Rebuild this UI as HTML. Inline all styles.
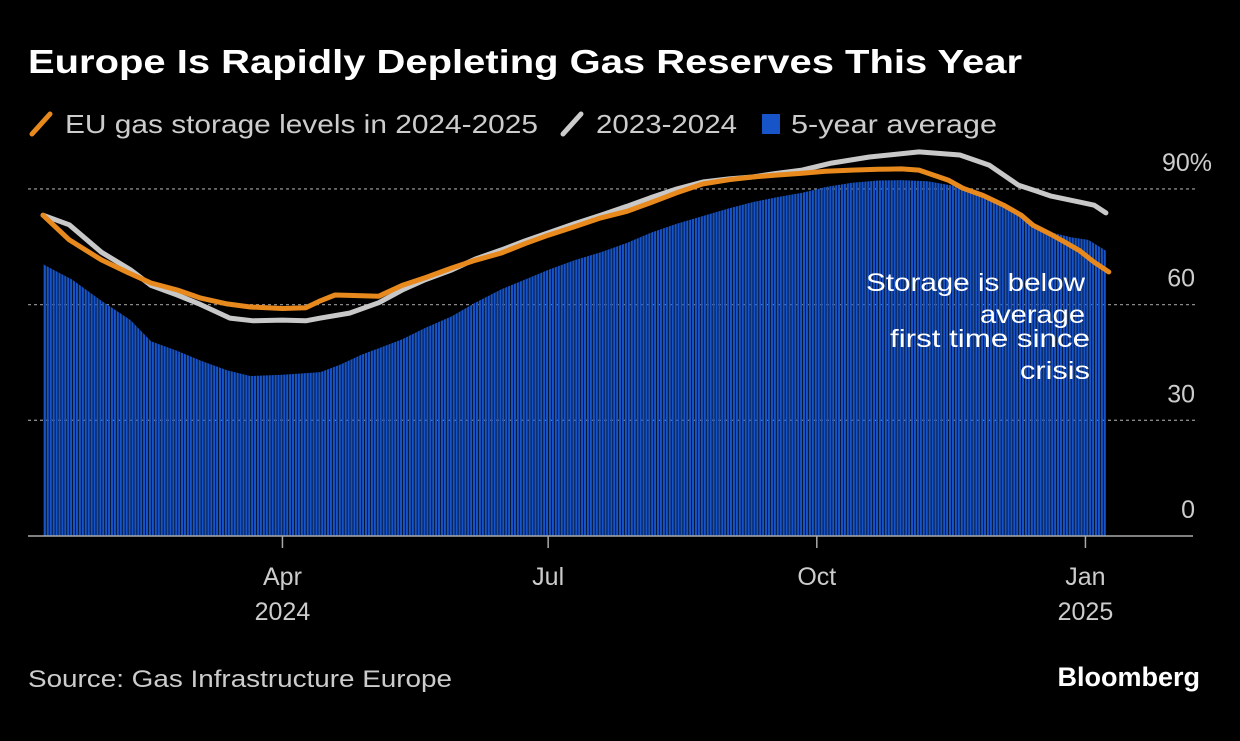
<!DOCTYPE html>
<html><head><meta charset="utf-8">
<style>
body{margin:0;background:#000;width:1240px;height:736px;overflow:hidden;font-family:"Liberation Sans",sans-serif;}
svg text{font-family:"Liberation Sans",sans-serif;}
</style></head>
<body>
<svg id="chart" width="1240" height="736" viewBox="0 0 1240 736" xmlns="http://www.w3.org/2000/svg">
<defs>
<pattern id="stripes" patternUnits="userSpaceOnUse" width="2.92" height="10">
<rect x="0" y="0" width="2.2" height="10" fill="#1654c8"/>
</pattern>
</defs>
<text x="28" y="73" fill="#fff" font-size="33" font-weight="bold" textLength="994" lengthAdjust="spacingAndGlyphs">Europe Is Rapidly Depleting Gas Reserves This Year</text>
<g>
<line x1="32" y1="134" x2="50" y2="114" stroke="#e8891e" stroke-width="5" stroke-linecap="round"/>
<text x="65" y="133" fill="#ccc" font-size="26" textLength="473" lengthAdjust="spacingAndGlyphs">EU gas storage levels in 2024-2025</text>
<line x1="563" y1="134" x2="581" y2="114" stroke="#ccc" stroke-width="5" stroke-linecap="round"/>
<text x="596" y="133" fill="#ccc" font-size="26" textLength="141" lengthAdjust="spacingAndGlyphs">2023-2024</text>
<rect x="762" y="114" width="18" height="20" fill="#1654c8"/>
<text x="791" y="133" fill="#ccc" font-size="26" textLength="206" lengthAdjust="spacingAndGlyphs">5-year average</text>
</g>
<g id="grid"></g>
<g id="bars"></g>
<g id="lines"></g>
<g id="xaxis"></g>
<g fill="#fff" font-size="25">
<text x="866" y="291" textLength="219" lengthAdjust="spacingAndGlyphs">Storage is below</text>
<text x="980" y="323" textLength="105" lengthAdjust="spacingAndGlyphs">average</text>
<text x="890" y="347" textLength="200" lengthAdjust="spacingAndGlyphs">first time since</text>
<text x="1020" y="379" textLength="70" lengthAdjust="spacingAndGlyphs">crisis</text>
</g>
<text x="28" y="687" fill="#ccc" font-size="24" textLength="424" lengthAdjust="spacingAndGlyphs">Source: Gas Infrastructure Europe</text>
<text x="1200" y="686" fill="#fff" font-size="27" font-weight="bold" text-anchor="end">Bloomberg</text>
</svg>
<script>
// day offsets from Jan 9 2024
var avgDays=[0,10,20,30,37,46,54,63,71,82,95,102,109,116,123,131,140,148,157,165,173,182,191,200,208,217,226,235,243,251,260,268,277,286,294,303,312,320,329,337,346,352,358,364];
var avgVals=[70.5,66.5,61,56,50.5,48,45.5,43,41.5,41.8,42.5,44.5,47,49,51,54,57,60.5,64,66.5,69,71.5,73.6,76,78.6,81,83,85,86.6,87.8,89,90.5,91.6,92.2,92.3,92,90.8,88.5,85.3,82,78.6,77.5,76.8,74];
var orDays=[0,9,20,30,37,46,54,63,71,82,90,95,100,105,115,123,131,140,148,157,165,173,182,191,200,208,217,226,235,243,251,260,268,277,286,294,300,305,310,315,322,329,335,339,345,350,355,360,365];
var orVals=[83.2,76.8,71.6,68,65.6,63.8,61.7,60.2,59.4,59,59.2,61,62.5,62.4,62.2,65,67,69.5,71.5,73.4,75.8,78,80.2,82.5,84.2,86.4,89,91.3,92.4,93.1,93.6,94.1,94.6,94.9,95.1,95.2,94.9,93.6,92.3,90.2,88.3,85.8,83.2,80.6,78.3,76.2,74,71,68.5];
var grDays=[0,9,20,30,37,46,54,64,72,82,90,95,105,115,123,131,140,148,157,165,173,182,191,200,208,217,226,235,243,251,260,270,283,300,314,324,334,340,345,355,360,364];
var grVals=[83.2,80.7,73.6,69,65,62.5,60,56.5,55.8,56,55.8,56.5,57.8,60.5,63.8,66.5,69,71.8,74.2,76.5,78.6,81,83.2,85.5,87.7,90,91.8,92.6,93.1,94,94.9,96.7,98.3,99.6,98.8,96.2,91,89.5,88.2,86.6,85.8,83.8];
var yTicks=[0,30,60,90];
var yLabels=["0","30","60","90%"];
var monthDays=[82,173,265,357];
var monthLabels=["Apr","Jul","Oct","Jan"];
var yearLabels=["2024","","","2025"];

var NS="http://www.w3.org/2000/svg";
function X(d){return 43+d*2.92;}
function Y(v){return 536-v*3.856;}
function mk(t,a,p){var e=document.createElementNS(NS,t);for(var k in a)e.setAttribute(k,a[k]);p.appendChild(e);return e;}

var grid=document.getElementById('grid');
yTicks.forEach(function(v,i){
  if(v>0){
    var l=mk('line',{x1:28,x2:1195,y1:Y(v),y2:Y(v),stroke:'#888','stroke-width':1.3,'stroke-dasharray':'3,3'},grid);
    
    
  }
  var t=mk('text',{x:(v==90?1212:1195),y:Y(v)-18,fill:'#ccc','font-size':25,'text-anchor':'end'},grid);
  t.textContent=yLabels[i];
  
  
});

var bars=document.getElementById('bars');
var d='M'+X(avgDays[0])+','+Y(0);
for(var i=0;i<avgDays.length;i++){ d+=' L'+X(avgDays[i]).toFixed(1)+','+Y(avgVals[i]).toFixed(1); }
d+=' L'+X(avgDays[avgDays.length-1]).toFixed(1)+','+Y(0)+' Z';
var area=mk('path',{d:d,fill:'url(#stripes)'},bars);



var lines=document.getElementById('lines');
function line(days,vals,col,name){
  var p=days.map(function(d,i){return X(d).toFixed(1)+','+Y(vals[i]).toFixed(1);}).join(' ');
  var e=mk('polyline',{points:p,fill:'none',stroke:col,'stroke-width':5,'stroke-linejoin':'round','stroke-linecap':'round'},lines);
  
  
}
line(grDays,grVals,'#c8c8c8','line-2023-2024');
line(orDays,orVals,'#e8891e','line-2024-2025');

var xa=document.getElementById('xaxis');
var ax=mk('line',{x1:28,x2:1193,y1:536,y2:536,stroke:'#aaa','stroke-width':1.5},xa);


monthDays.forEach(function(d,i){
  var t=mk('line',{x1:X(d),x2:X(d),y1:536,y2:548,stroke:'#aaa','stroke-width':1.5},xa);
  
  
  var l=mk('text',{x:X(d),y:585,fill:'#ccc','font-size':25,'text-anchor':'middle'},xa);
  l.textContent=monthLabels[i];
  
  
  if(yearLabels[i]){
    var y=mk('text',{x:X(d),y:620,fill:'#ccc','font-size':25,'text-anchor':'middle'},xa);
    y.textContent=yearLabels[i];
    
    
  }
});
</script>
</body></html>
